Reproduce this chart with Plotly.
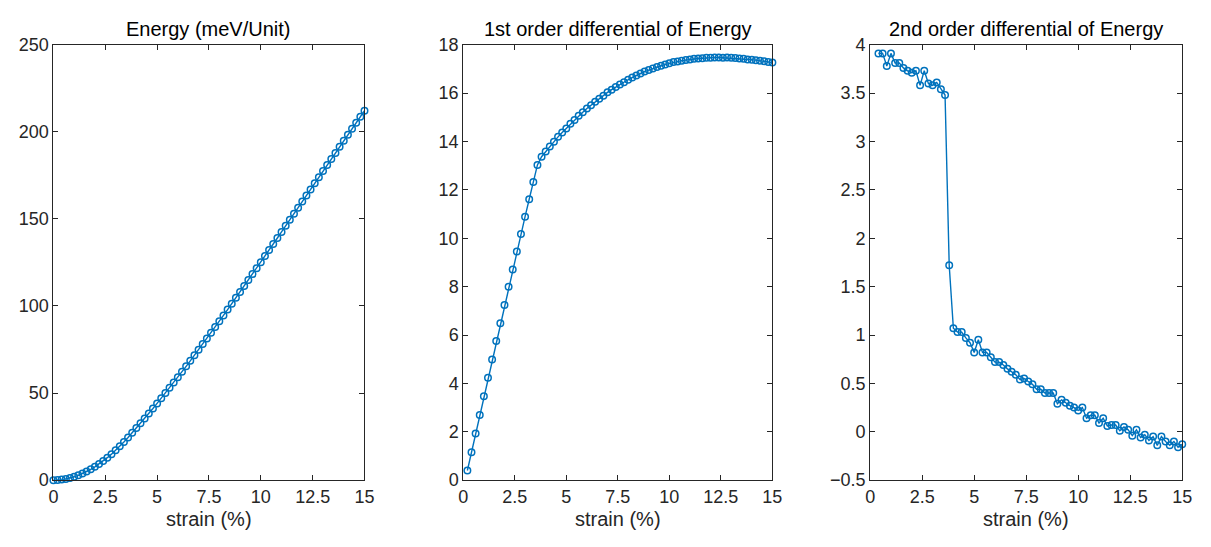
import plotly.graph_objects as go

# ---------------- data ----------------
strain_e = [round(0.2 * i, 1) for i in range(76)]  # 0.0 .. 15.0
energy = [0.00, 0.08, 0.31, 0.70, 1.23, 1.93, 2.77, 3.77, 4.92, 6.22,
          7.67, 9.27, 11.01, 12.90, 14.93, 17.11, 19.43, 21.90, 24.50, 27.18,
          29.89, 32.65, 35.45, 38.29, 41.16, 44.07, 47.02, 50.00, 53.01, 56.05,
          59.12, 62.22, 65.35, 68.50, 71.68, 74.89, 78.11, 81.36, 84.63, 87.92,
          91.23, 94.56, 97.91, 101.27, 104.65, 108.04, 111.44, 114.86, 118.28, 121.72,
          125.16, 128.62, 132.08, 135.55, 139.02, 142.50, 145.99, 149.47, 152.96, 156.45,
          159.95, 163.44, 166.93, 170.42, 173.92, 177.41, 180.90, 184.39, 187.87, 191.35,
          194.83, 198.30, 201.76, 205.23, 208.69, 212.14]

strain_d1 = strain_e[1:]  # 0.2 .. 15.0
diff1 = [0.40, 1.15, 1.93, 2.69, 3.47, 4.23, 4.99, 5.75, 6.49, 7.24,
         7.99, 8.71, 9.45, 10.17, 10.89, 11.61, 12.32, 13.03, 13.37, 13.58,
         13.79, 13.99, 14.19, 14.37, 14.54, 14.73, 14.89, 15.06, 15.21, 15.36,
         15.50, 15.64, 15.77, 15.89, 16.03, 16.14, 16.25, 16.35, 16.45, 16.55,
         16.64, 16.73, 16.81, 16.89, 16.95, 17.02, 17.08, 17.13, 17.18, 17.23,
         17.28, 17.30, 17.34, 17.37, 17.39, 17.42, 17.43, 17.44, 17.46, 17.46,
         17.47, 17.47, 17.46, 17.47, 17.46, 17.45, 17.43, 17.42, 17.39, 17.38,
         17.36, 17.34, 17.32, 17.28, 17.26]

strain_d2 = strain_e[2:]  # 0.4 .. 15.0
diff2 = [3.91, 3.91, 3.78, 3.91, 3.81, 3.81, 3.76, 3.73, 3.71, 3.73,
         3.58, 3.73, 3.60, 3.58, 3.61, 3.54, 3.48, 1.72, 1.07, 1.03,
         1.03, 0.97, 0.92, 0.82, 0.95, 0.82, 0.82, 0.77, 0.72, 0.72,
         0.69, 0.65, 0.62, 0.59, 0.54, 0.55, 0.52, 0.49, 0.44, 0.44,
         0.40, 0.40, 0.40, 0.29, 0.33, 0.30, 0.27, 0.25, 0.22, 0.25,
         0.14, 0.17, 0.17, 0.09, 0.14, 0.06, 0.07, 0.07, 0.01, 0.05,
         0.02, -0.04, 0.02, -0.06, -0.03, -0.09, -0.05, -0.14, -0.05, -0.10,
         -0.14, -0.10, -0.16, -0.13]

titles = ["Energy (meV/Unit)", "1st order differential of Energy", "2nd order differential of Energy"]
xlabel = "strain (%)"
x_tickvals = [0, 2.5, 5, 7.5, 10, 12.5, 15]
x_ticktext = ["0", "2.5", "5", "7.5", "10", "12.5", "15"]
y_ranges = [[0, 250], [0, 18], [-0.5, 4]]
y_dticks = [50, 2, 0.5]

# ---------------- figure ----------------
W, H = 1211, 547
blue = "#0072BD"
axcol = "#262626"
font = "Liberation Sans, Arial, Helvetica, sans-serif"

x_dom = [[49 / W, 364 / W], [464 / W, 777 / W], [876 / W, 1192 / W]]
y_dom = [1 - 488 / H, 1 - 36 / H]

fig = go.Figure()
series = [(strain_e, energy), (strain_d1, diff1), (strain_d2, diff2)]
for i, (xs, ys) in enumerate(series):
    sfx = "" if i == 0 else str(i + 1)
    fig.add_trace(go.Scatter(
        x=xs, y=ys, mode="lines+markers",
        line=dict(color=blue, width=1.4),
        marker=dict(symbol="circle-open", size=6.5, color=blue, line=dict(width=1.5, color=blue)),
        xaxis="x" + sfx, yaxis="y" + sfx, showlegend=False, cliponaxis=False))

common = dict(showline=True, linecolor=axcol, linewidth=1, mirror="ticks",
              ticks="inside", ticklen=5, tickcolor=axcol, tickwidth=1,
              showgrid=False, zeroline=False,
              tickfont=dict(family=font, size=18, color=axcol))

layout = dict(width=W, height=H, margin=dict(l=0, r=0, t=0, b=0),
              paper_bgcolor="white", plot_bgcolor="white",
              font=dict(family=font, color=axcol))
annotations = []
for i in range(3):
    sfx = "" if i == 0 else str(i + 1)
    layout["xaxis" + sfx] = dict(common, domain=x_dom[i], range=[0, 15],
                                 tickvals=x_tickvals, ticktext=x_ticktext,
                                 anchor="y" + sfx)
    layout["yaxis" + sfx] = dict(common, domain=y_dom, range=y_ranges[i],
                                 dtick=y_dticks[i], tick0=0, anchor="x" + sfx)
    cx = (x_dom[i][0] + x_dom[i][1]) / 2
    annotations.append(dict(text=titles[i], x=cx, y=1 - 20 / H, xref="paper", yref="paper",
                            xanchor="center", yanchor="middle", showarrow=False,
                            font=dict(family=font, size=20, color="#000000")))
    annotations.append(dict(text=xlabel, x=cx, y=1 - 528 / H, xref="paper", yref="paper",
                            xanchor="center", yanchor="middle", showarrow=False,
                            font=dict(family=font, size=20, color=axcol)))
layout["annotations"] = annotations
fig.update_layout(**layout)

fig.write_html("out.html")
